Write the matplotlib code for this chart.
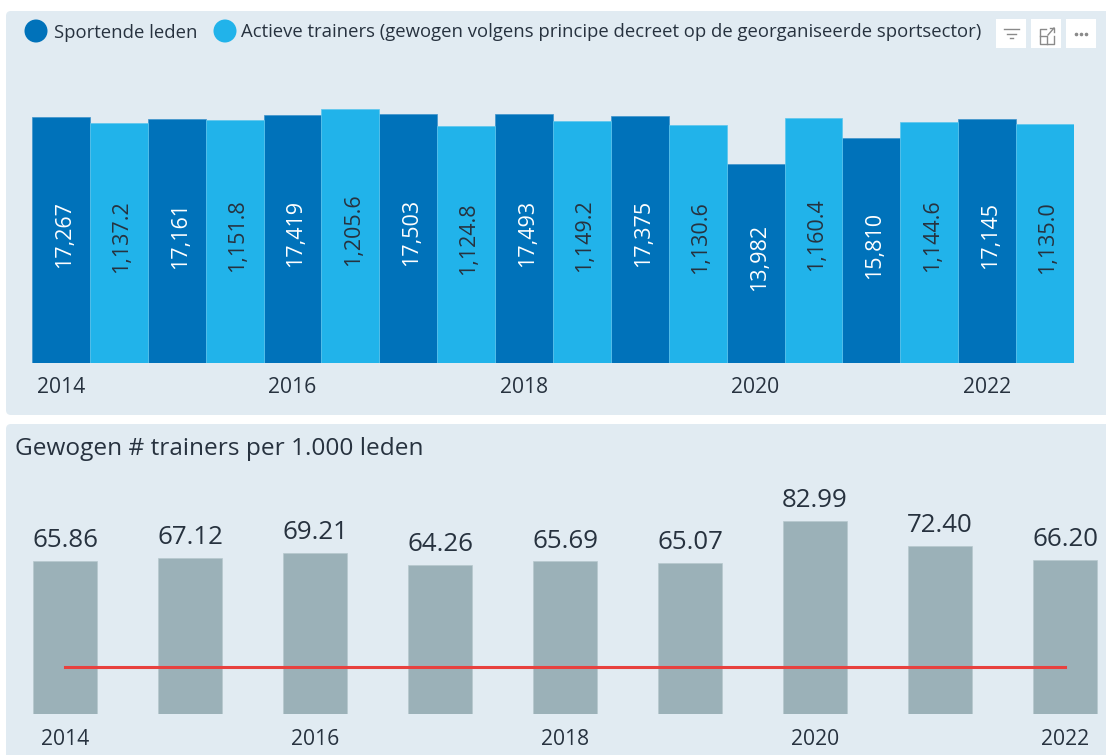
import matplotlib
matplotlib.use("Agg")
import matplotlib.pyplot as plt
from matplotlib.patches import FancyBboxPatch, Rectangle, Ellipse

plt.rcParams['font.family'] = ['Open Sans', 'DejaVu Sans']

# data
years = [2014, 2015, 2016, 2017, 2018, 2019, 2020, 2021, 2022]
tick_years = [2014, 2016, 2018, 2020, 2022]
leden = [17267, 17161, 17419, 17503, 17493, 17375, 13982, 15810, 17145]
trainers = [1137.2, 1151.8, 1205.6, 1124.8, 1149.2, 1130.6, 1160.4, 1144.6, 1135.0]
per_1000 = [65.86, 67.12, 69.21, 64.26, 65.69, 65.07, 82.99, 72.40, 66.20]
norm = [20, 20, 20, 20, 20, 20, 20, 20, 20]

legend_names = ['Sportende leden', 'Actieve trainers (gewogen volgens principe decreet op de georganiseerde sportsector)']
title2 = 'Gewogen # trainers per 1.000 leden'

W, H = 1106, 755
PANEL = '#E1EBF2'
DARK = '#0072BA'
LIGHT = '#21B3EA'
GREY = '#9BB1B8'
RED = '#E8413E'
TEXT = '#27323F'


def axes_px(x0, y0, x1, y1):
    # pixel box (y from the top) to figure coordinates
    return fig.add_axes([x0 / W, 1 - y1 / H, (x1 - x0) / W, (y1 - y0) / H])


fig = plt.figure(figsize=(W / 100, H / 100), dpi=100, facecolor='white')

# background layer in pixel coordinates
bg = fig.add_axes([0, 0, 1, 1], zorder=0)
bg.set_xlim(0, W)
bg.set_ylim(H, 0)
bg.axis('off')
bg.add_patch(FancyBboxPatch((6, 11), 1110, 404, boxstyle='round,pad=0,rounding_size=5', fc=PANEL, ec='none'))
bg.add_patch(FancyBboxPatch((6, 424), 1110, 345, boxstyle='round,pad=0,rounding_size=5', fc=PANEL, ec='none'))

# legend
bg.add_patch(Ellipse((36, 31), 23, 23, fc=DARK, ec='none'))
bg.text(54, 33, legend_names[0], fontsize=13.3, color=TEXT, va='center', ha='left')
bg.add_patch(Ellipse((225, 31), 23, 23, fc=LIGHT, ec='none'))
bg.text(241, 32, legend_names[1], fontsize=13.3, color=TEXT, va='center', ha='left')

# header icons
for x in [996, 1031, 1066]:
    bg.add_patch(Rectangle((x, 19), 30, 29, fc='white', ec='none'))
ic = '#8a8a8a'
bg.plot([1004, 1019], [29, 29], color=ic, lw=1)
bg.plot([1007, 1016], [33.5, 33.5], color=ic, lw=1)
bg.plot([1010, 1013], [38, 38], color=ic, lw=1)
bg.plot([1046, 1040, 1040, 1054, 1054], [29, 29, 44, 44, 36], color=ic, lw=1)
bg.plot([1040, 1047, 1047], [36, 36, 44], color=ic, lw=1)
bg.plot([1048, 1054], [35, 28], color=ic, lw=1)
bg.plot([1050, 1054, 1054], [28, 28, 32], color=ic, lw=1)
bg.plot([1076, 1081, 1086], [34, 34, 34], ls='none', marker='o', ms=1.6, color=ic)

# top chart, two y scales sharing one x
ax1 = axes_px(32, 60, 1074, 363)
ax1.patch.set_alpha(0)
ax1b = ax1.twinx()
ax1.set_ylim(0, 21293)
ax1b.set_ylim(0, 1438)
ax1.set_xlim(-0.5, 8.5)
w = 0.5
xs = range(len(years))
ax1.bar([x - w / 2 for x in xs], leden, width=w, color=DARK, edgecolor='#3f93cc', linewidth=0.5)
ax1b.bar([x + w / 2 for x in xs], trainers, width=w, color=LIGHT, edgecolor='#5cc6ee', linewidth=0.5)

for i in xs:
    ax1.annotate(f'{leden[i]:,}', (i - w / 2, leden[i] / 2), xytext=(2.5, 4), textcoords='offset points',
                 rotation=90, color='white', fontsize=15.5, ha='center', va='center')
    ax1b.annotate(f'{trainers[i]:,.1f}', (i + w / 2, trainers[i] / 2), xytext=(2, 4.5), textcoords='offset points',
                  rotation=90, color=TEXT, fontsize=15.5, ha='center', va='center')

ax1.set_xticks([years.index(y) - 0.25 for y in tick_years])
ax1.set_xticklabels(tick_years, fontsize=15.2, color=TEXT)
ax1.tick_params(axis='x', length=0, pad=10)
ax1.set_yticks([])
ax1b.set_yticks([])
for a in [ax1, ax1b]:
    for s in a.spines.values():
        s.set_visible(False)

# bottom chart
bg.text(15, 449, title2, fontsize=17.6, color=TEXT, va='center', ha='left')

ax2 = axes_px(2.5, 470, 1127.5, 714)
ax2.patch.set_alpha(0)
ax2.set_xlim(-0.5, 8.5)
ax2.set_ylim(0, 104.9)
ax2.bar(xs, per_1000, width=0.507, color=GREY, edgecolor='#b7c8ce', linewidth=0.5)
ax2.plot(xs, norm, color=RED, lw=2.2, solid_capstyle='projecting')
for i in xs:
    ax2.annotate(f'{per_1000[i]:.2f}', (i, per_1000[i]), xytext=(0, 14.5), textcoords='offset points',
                 color=TEXT, fontsize=18.6, ha='center', va='center')
ax2.set_xticks([years.index(y) for y in tick_years])
ax2.set_xticklabels(tick_years, fontsize=15.2, color=TEXT)
ax2.tick_params(axis='x', length=0, pad=11)
ax2.set_yticks([])
for s in ax2.spines.values():
    s.set_visible(False)

fig.savefig('out.png', dpi=100, facecolor='white')
